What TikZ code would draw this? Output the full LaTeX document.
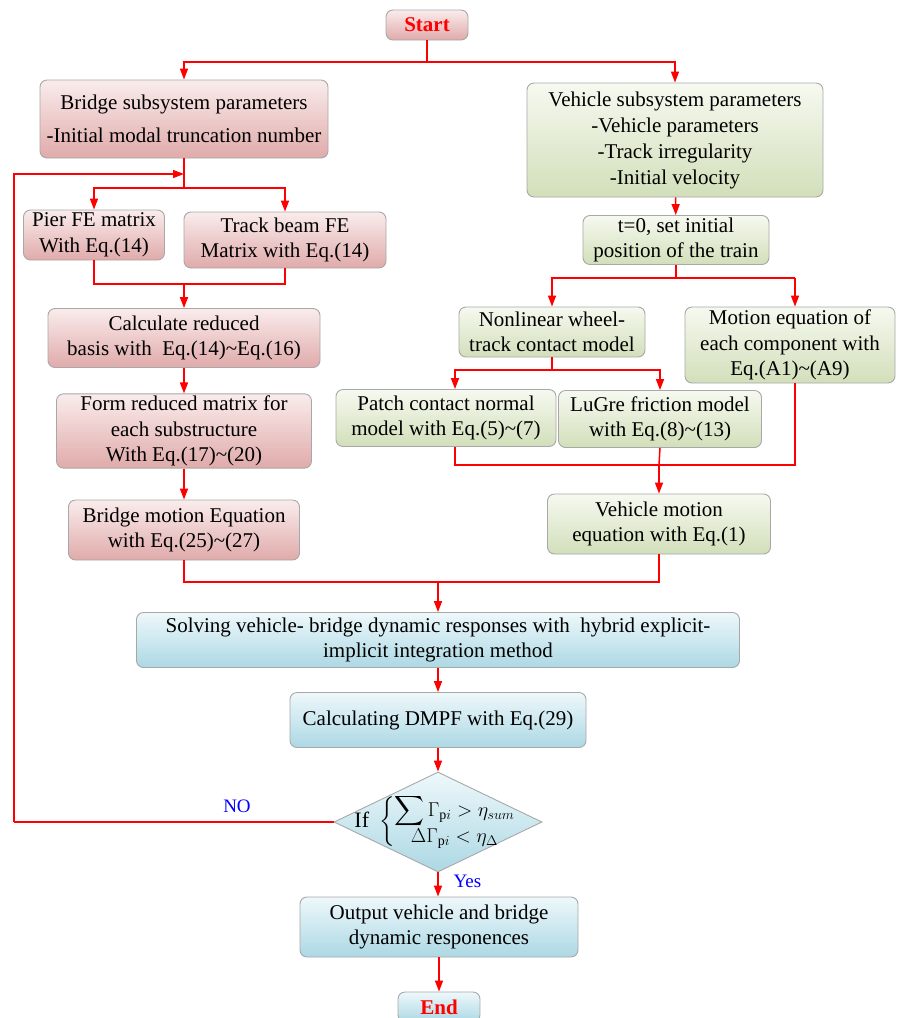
\RequirePackage{fix-cm}
\documentclass[tikz,border=0pt]{standalone}
\usepackage{amsmath}
\usepackage{fontspec}
\setmainfont{Liberation Serif}
\usetikzlibrary{positioning,shapes.geometric,arrows.meta}
\definecolor{linkred}{RGB}{255,0,0}
\definecolor{rimgray}{RGB}{168,168,168}
\definecolor{pinktop}{RGB}{250,236,236}
\definecolor{pinkbot}{RGB}{224,170,170}
\definecolor{greentop}{RGB}{246,249,240}
\definecolor{greenbot}{RGB}{210,223,186}
\definecolor{bluetop}{RGB}{238,248,251}
\definecolor{bluebot}{RGB}{172,216,228}
\tikzset{
  flowbox/.style={
    % The shape:
    rectangle, rounded corners=7pt,
    % The border:
    draw=rimgray, line width=0.9pt,
    % Font
    font=\fontsize{21}{25.5}\selectfont, align=center, inner sep=2pt
  },
  bridgepart/.style={flowbox,
    % The filling:
    top color=pinktop, bottom color=pinkbot},
  vehiclepart/.style={flowbox,
    top color=greentop, bottom color=greenbot},
  solverpart/.style={flowbox,
    top color=bluetop, bottom color=bluebot},
  terminal/.style={flowbox,
    font=\fontsize{21}{25}\selectfont\bfseries, text=linkred,
    minimum width=82pt, minimum height=30pt},
  decision/.style={
    diamond, draw=rimgray, line width=0.9pt,
    top color=bluetop, bottom color=bluebot,
    minimum width=208pt, minimum height=100pt, inner sep=0pt},
  answer/.style={text=blue, font=\fontsize{19}{22}\selectfont}
}
\newcommand{\tld}{\char126\relax}

\begin{document}
\begin{tikzpicture}[x=1pt,y=-1pt,>={Triangle[length=11pt,width=8pt]},
                    link/.style={draw=linkred,line width=1.5pt},
                    tip/.style={link,->}]
  \useasboundingbox (0,0) rectangle (897,1018);

  % start and the two subsystems
  \node (start)    [terminal,top color=pinktop,bottom color=pinkbot] at (427,25) {Start};
  \node (bridge)   [bridgepart,minimum width=288pt,minimum height=78pt] at (184,119)
        {Bridge subsystem parameters\\[8pt]-Initial modal truncation number};
  \node (vehicle)  [vehiclepart,minimum width=296pt,minimum height=114pt,
                    font=\fontsize{21}{26}\selectfont] at (675,140)
        {Vehicle subsystem parameters\\-Vehicle parameters\\-Track irregularity\\-Initial velocity};

  % bridge side
  \node (pier)     [bridgepart,minimum width=141pt,minimum height=50pt] at (94,235)
        {Pier FE matrix\\With Eq.(14)};
  \node (track)    [bridgepart,minimum width=202pt,minimum height=56pt] at (285,240)
        {Track beam FE\\Matrix with Eq.(14)};
  \node (calc)     [bridgepart,minimum width=272pt,minimum height=59pt] at (184,338)
        {Calculate reduced\\basis with\ \ Eq.(14)\tld Eq.(16)};
  \node (form)     [bridgepart,minimum width=255pt,minimum height=74pt] at (184,431)
        {Form reduced matrix for\\each substructure\\With Eq.(17)\tld(20)};
  \node (bmotion)  [bridgepart,minimum width=231pt,minimum height=60pt] at (184,530)
        {Bridge motion Equation\\with Eq.(25)\tld(27)};

  % vehicle side
  \node (tzero)    [vehiclepart,minimum width=186pt,minimum height=49pt] at (676,240)
        {t=0, set initial\\position of the train};
  \node (nonlin)   [vehiclepart,minimum width=186pt,minimum height=50pt] at (552,332)
        {Nonlinear wheel-\\track contact model};
  \node (motioneq) [vehiclepart,minimum width=210pt,minimum height=76pt] at (790,345)
        {Motion equation of\\each component with\\Eq.(A1)\tld(A9)};
  \node (patch)    [vehiclepart,minimum width=220pt,minimum height=57pt] at (446,418)
        {Patch contact normal\\model with Eq.(5)\tld(7)};
  \node (lugre)    [vehiclepart,minimum width=203pt,minimum height=57pt] at (660,419)
        {LuGre friction model\\with Eq.(8)\tld(13)};
  \node (vmotion)  [vehiclepart,minimum width=223pt,minimum height=60pt] at (659,524)
        {Vehicle motion\\equation with Eq.(1)};

  % coupled part
  \node (solve)    [solverpart,minimum width=603pt,minimum height=55pt] at (438,640)
        {Solving vehicle- bridge dynamic responses with\ \ hybrid explicit-\\implicit integration method};
  \node (dmpf)     [solverpart,minimum width=296pt,minimum height=55pt] at (438,720)
        {Calculating DMPF with Eq.(29)};
  \node (check)    [decision] at (438,822) {};
  \node (cond)     [font=\fontsize{22}{25}\selectfont] at (435,822)
        {If\hspace{10pt}\fontsize{20}{23}\selectfont
         $\left\{\begin{array}{@{}c@{}}
           \displaystyle\sum\Gamma_{\mathrm{p}i}>\eta_{sum}\\[-2pt]
           \Delta\Gamma_{\mathrm{p}i}<\eta_{\Delta}
         \end{array}\right.$};
  \node (output)   [solverpart,minimum width=278pt,minimum height=60pt] at (439,927)
        {Output vehicle and bridge\\dynamic responences};
  \node (end)      [terminal,top color=bluetop,bottom color=bluebot] at (439,1007) {End};

  \node (no)  [answer] at (237,806) {NO};
  \node (yes) [answer,anchor=west] at (450,881) {Yes};

  % junction points
  \coordinate (j0) at (427,62);
  \coordinate (fb) at (184,174);
  \coordinate (j1) at (184,188);
  \coordinate (j2) at (184,284);
  \coordinate (j3) at (438,582);
  \coordinate (j4) at (676,278);
  \coordinate (j4r) at (795,278);
  \coordinate (j5) at (552,370);
  \coordinate (j5l) at (455,370);
  \coordinate (j6) at (659,465);
  \coordinate (j6l) at (455,465);
  \coordinate (j6r) at (795,465);
  \coordinate (loop) at (14,822);

  % connectors
  \draw[link] (start) -- (j0);
  \draw[tip] (j0) -| (bridge.north);
  \draw[tip] (j0) -| (vehicle.north);
  \draw[link] (bridge) -- (j1);
  \draw[tip] (j1) -| (pier.north);
  \draw[tip] (j1) -| (track.north);
  \draw[link] (pier.south) |- (j2) -| (track.south);
  \draw[tip] (j2) -- (calc);
  \draw[tip] (calc) -- (form);
  \draw[tip] (form) -- (bmotion);
  \draw[link] (bmotion.south) |- (j3) -| (vmotion.south);
  \draw[tip] (j3) -- (solve);

  \draw[tip] (vehicle) -- (tzero);
  \draw[link] (tzero) -- (j4);
  \draw[tip] (j4) -| (nonlin.north);
  \draw[link] (j4) -- (j4r);
  \draw[tip] (j4r) -- (j4r |- motioneq.north);
  \draw[link] (nonlin) -- (j5);
  \draw[tip] (j5) -- (j5l) -- (j5l |- patch.north);
  \draw[tip] (j5) -| (lugre.north);
  \draw[link] (j6l |- patch.south) -- (j6l) -- (j6r) -- (j6r |- motioneq.south);
  \draw[link] (lugre.south) -- (j6);
  \draw[tip] (j6) -- (vmotion);

  \draw[tip] (solve) -- (dmpf);
  \draw[tip] (dmpf) -- (check);
  \draw[link] (check.west) -- (loop);
  \draw[tip] (loop) |- (fb);
  \draw[tip] (check.south) -- (output.north -| check.south);
  \draw[tip] (output) -- (end);
\end{tikzpicture}
\end{document}
